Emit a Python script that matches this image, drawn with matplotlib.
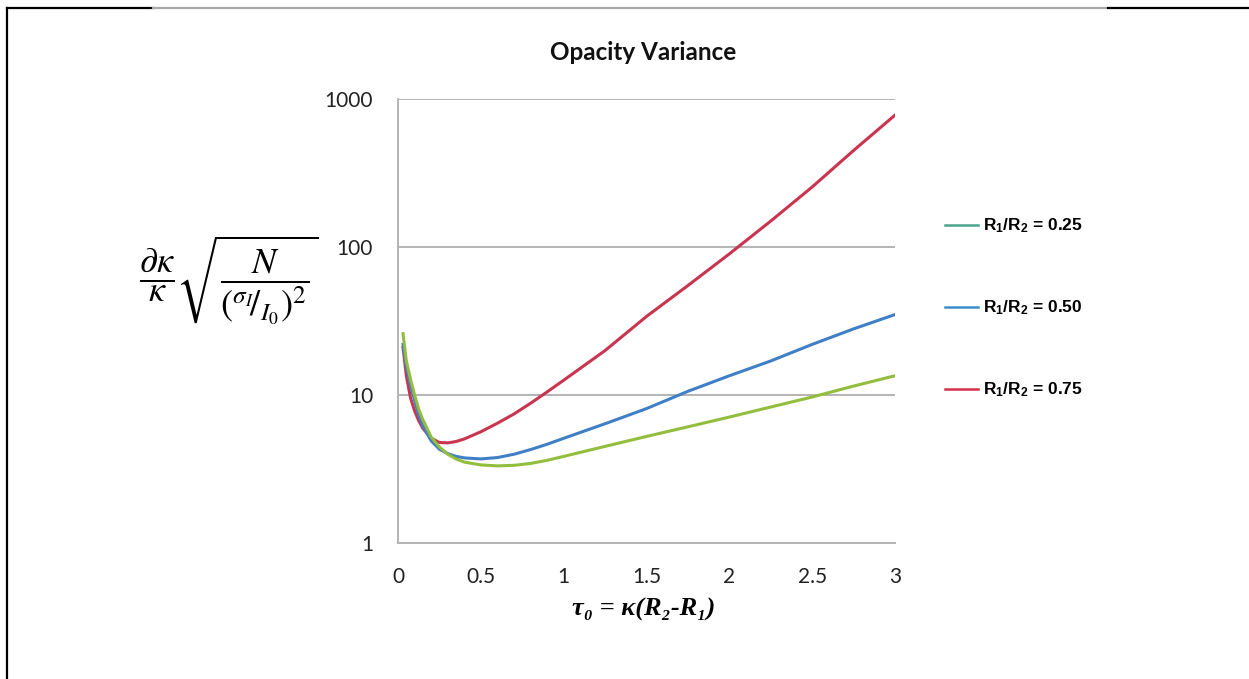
import matplotlib
matplotlib.use("Agg")
import matplotlib.pyplot as plt
from matplotlib.lines import Line2D
from matplotlib.ticker import FixedLocator, FixedFormatter, NullLocator

plt.rcParams["mathtext.fontset"] = "custom"
plt.rcParams["mathtext.rm"] = "Liberation Sans:bold"
plt.rcParams["mathtext.it"] = "Liberation Sans:bold"
plt.rcParams["mathtext.bf"] = "Liberation Sans:bold"

# optical depth tau_0
tau = [0.03, 0.05, 0.075, 0.1, 0.125, 0.15, 0.2, 0.25, 0.3, 0.35, 0.4, 0.5,
       0.6, 0.7, 0.8, 0.9, 1.0, 1.25, 1.5, 1.75, 2.0, 2.25, 2.5, 2.75, 3.0]

# (log axis)
r025 = [26, 17, 12.8, 10, 8.0, 6.8, 5.2, 4.45, 3.98, 3.7, 3.52, 3.37,
        3.32, 3.35, 3.45, 3.62, 3.85, 4.5, 5.25, 6.1, 7.1, 8.3, 9.7, 11.5, 13.5]
r050 = [22, 15.5, 11.6, 9.2, 7.3, 6.2, 4.9, 4.3, 4.02, 3.85, 3.76, 3.7,
        3.78, 3.98, 4.28, 4.65, 5.1, 6.4, 8.1, 10.6, 13.5, 17, 22, 28, 35]
r075 = [21, 13.5, 9.6, 7.8, 6.7, 5.95, 5.1, 4.78, 4.75, 4.85, 5.05, 5.65,
        6.45, 7.45, 8.8, 10.5, 12.6, 20, 34, 55, 90, 150, 255, 450, 780]

labels = [r"R$_1$/R$_2$ = 0.25", r"R$_1$/R$_2$ = 0.50", r"R$_1$/R$_2$ = 0.75"]
line_colors = ["#93bd3c", "#3f7fc5", "#c9344f"]
legend_colors = ["#4aa38c", "#3f8cc9", "#d4304a"]

xticks = [0, 0.5, 1, 1.5, 2, 2.5, 3]
xticklabels = ["0", "0.5", "1", "1.5", "2", "2.5", "3"]
yticks = [1, 10, 100, 1000]
yticklabels = ["1", "10", "100", "1000"]

fig = plt.figure(figsize=(12.49, 6.79), dpi=100)
ax = fig.add_axes([0.3187, 0.2003, 0.7166 - 0.3187, 0.854 - 0.2003])

ax.plot(tau, r075, color=line_colors[2], lw=2.2, zorder=3)
ax.plot(tau, r050, color=line_colors[1], lw=2.2, zorder=4)
ax.plot(tau, r025, color=line_colors[0], lw=2.2, zorder=5)

ax.set_yscale("log")
ax.set_xlim(0, 3)
ax.set_ylim(1, 1000)
ax.xaxis.set_major_locator(FixedLocator(xticks))
ax.xaxis.set_major_formatter(FixedFormatter(xticklabels))
ax.yaxis.set_major_locator(FixedLocator(yticks))
ax.yaxis.set_major_formatter(FixedFormatter(yticklabels))
ax.yaxis.set_minor_locator(NullLocator())
ax.tick_params(axis="both", length=0, labelsize=15, colors="#222222")
ax.tick_params(axis="x", pad=17)
ax.tick_params(axis="y", pad=18)
for lab in ax.get_xticklabels() + ax.get_yticklabels():
    lab.set_family("Lato")

ax.grid(axis="y", color="#b4b4b4", lw=1.4)
ax.set_axisbelow(True)
for s in ["top", "right"]:
    ax.spines[s].set_visible(False)
for s in ["left", "bottom"]:
    ax.spines[s].set_color("#b4b4b4")
    ax.spines[s].set_linewidth(1.4)

fig.text(0.515, 0.922, "Opacity Variance", family="Lato", weight="bold",
         fontsize=17.5, ha="center", va="center", color="#111111")

fig.text(0.515, 0.102, "τ₀ = κ(R₂-R₁)", family=["Liberation Serif", "DejaVu Serif"],
         weight="bold", style="italic", fontsize=19, ha="center", va="center")

fig.text(0.183, 0.588,
         r"$\dfrac{\partial\kappa}{\kappa}\sqrt{\dfrac{N}{\left({}^{\sigma_I}\!/{}_{I_0}\right)^{2}}}$",
         math_fontfamily="stix", fontsize=26, ha="center", va="center")

handles = [Line2D([], [], color=c, lw=1.8) for c in legend_colors]
leg = fig.legend(handles, labels, loc="upper left", bbox_to_anchor=(0.744, 0.704),
                 frameon=False, labelspacing=3.65, handlelength=1.9,
                 handletextpad=0.3,
                 prop={"family": "Liberation Sans", "weight": "bold", "size": 12.5})

# page frame
fig.add_artist(Line2D([7 / 1249, 7 / 1249], [0, 1 - 8 / 679], color="black", lw=1.6))
fig.add_artist(Line2D([7 / 1249, 153 / 1249], [1 - 8 / 679] * 2, color="black", lw=1.6))
fig.add_artist(Line2D([153 / 1249, 1108 / 1249], [1 - 8 / 679] * 2, color="#a8a8a8", lw=1.6))
fig.add_artist(Line2D([1108 / 1249, 1], [1 - 8 / 679] * 2, color="black", lw=1.6))

fig.savefig("out.png", dpi=100)
